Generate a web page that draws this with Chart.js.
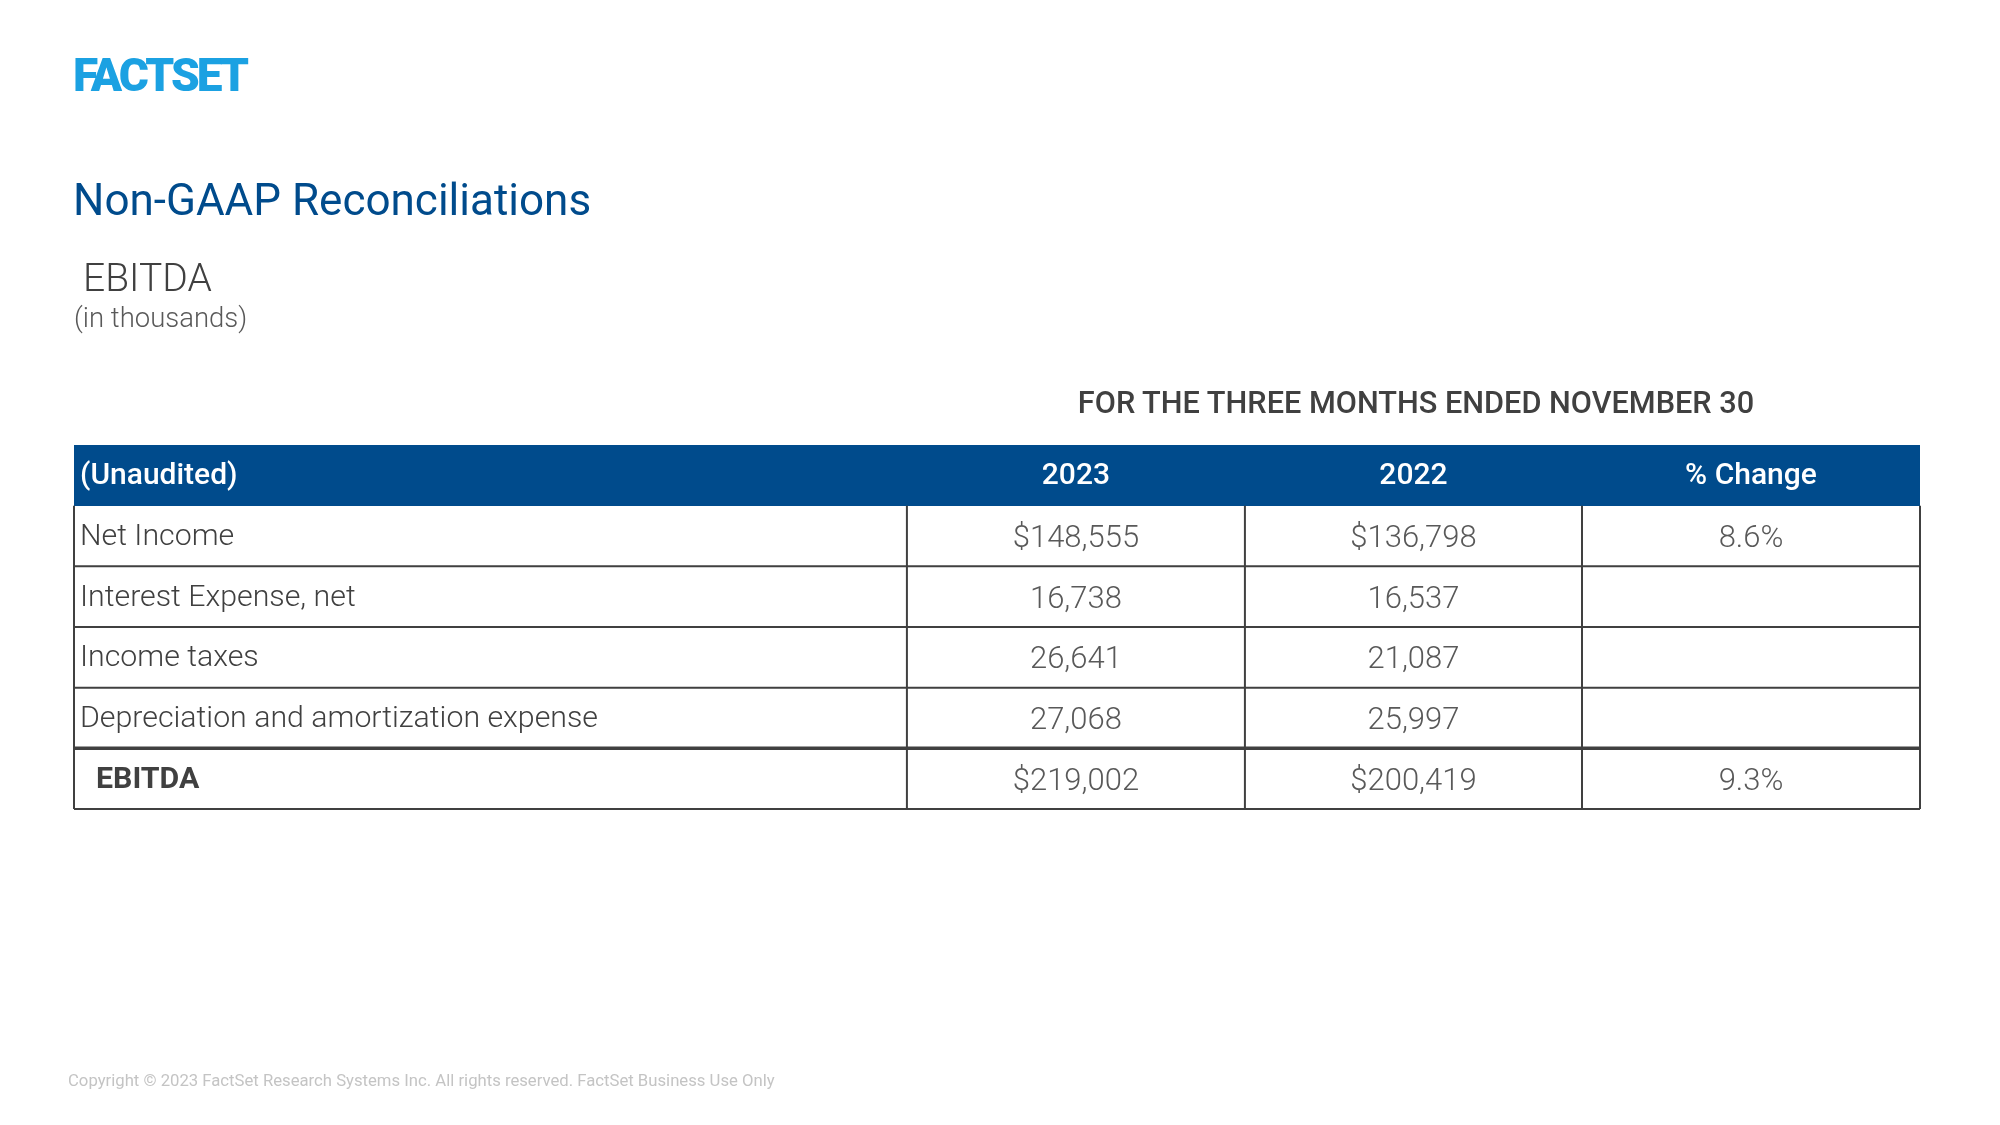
<!DOCTYPE html>
<html>
<head>
<meta charset="utf-8">
<script src="https://cdn.jsdelivr.net/npm/chart.js@4.4.1/dist/chart.umd.min.js"></script>
<style>
  html, body { margin: 0; padding: 0; background: #ffffff; }
  #wrap { position: relative; width: 2000px; height: 1125px; overflow: hidden; background: #fff; }
  #c { position: absolute; left: 0; top: 0; }
  .t { position: absolute; line-height: 1; white-space: nowrap; font-family: Roboto, "Noto Sans", sans-serif; }
  #logo { left: 73px; top: 52px; font-size: 46px; font-weight: 900; color: #1BA1E2; letter-spacing: -3px; }
  #title { left: 73px; top: 178px; font-size: 44px; font-weight: 400; color: #004B8C; }
  #sub { left: 83px; top: 259px; font-size: 39px; font-weight: 300; color: #404040; }
  #unit { left: 74px; top: 304px; font-size: 27.5px; font-weight: 300; color: #595959; }
  #period { left: 1416px; top: 388px; font-size: 30.7px; font-weight: 500; color: #404040; transform: translateX(-50%); }
  #copy { left: 68px; top: 1073px; font-size: 16.7px; font-weight: 400; color: #c4c4c4; }
</style>
</head>
<body>
<div id="wrap">
  <canvas id="c" width="2000" height="1125"></canvas>
  <div class="t" id="logo">FACTSET</div>
  <div class="t" id="title">Non-GAAP Reconciliations</div>
  <div class="t" id="sub">EBITDA</div>
  <div class="t" id="unit">(in thousands)</div>
  <div class="t" id="period">FOR THE THREE MONTHS ENDED NOVEMBER 30</div>
  <div class="t" id="copy">Copyright © 2023 FactSet Research Systems Inc. All rights reserved. FactSet Business Use Only</div>
</div>
<script>
// ---- data ----
const headerLabel = '(Unaudited)';
const rowLabels = ['Net Income', 'Interest Expense, net', 'Income taxes', 'Depreciation and amortization expense', 'EBITDA'];
const columnHeaders = ['2023', '2022', '% Change'];
const values2023 = [148555, 16738, 26641, 27068, 219002];
const values2022 = [136798, 16537, 21087, 25997, 200419];
const pctChange = [8.6, null, null, null, 9.3];
const dollarRows = [true, false, false, false, true];
const boldRows = [false, false, false, false, true];

// ---- layout (table column edges as % of table width) ----
const colEdges = [0, 45.12, 63.43, 81.69, 100];

const categories = [headerLabel].concat(rowLabels);
const fmtNum = (v, dollar) => (dollar ? '$' : '') + v.toLocaleString('en-US');
const fmtPct = v => v == null ? '' : v.toFixed(1) + '%';
const cellText = [
  [headerLabel].concat(columnHeaders)
].concat(rowLabels.map((r, i) => [r, fmtNum(values2023[i], dollarRows[i]), fmtNum(values2022[i], dollarRows[i]), fmtPct(pctChange[i])]));

const headerBand = categories.map((c, i) => i === 0 ? [0, 100] : null);

const tablePlugin = {
  id: 'tablePlugin',
  afterDatasetsDraw(chart) {
    const ctx = chart.ctx;
    const x = chart.scales.x, y = chart.scales.y;
    const n = categories.length;
    const half = (y.getPixelForValue(1) - y.getPixelForValue(0)) / 2;
    const edge = i => y.getPixelForValue(i) - half;
    const xl = x.getPixelForValue(0), xr = x.getPixelForValue(100);
    ctx.save();
    ctx.strokeStyle = '#404040';
    // horizontal lines
    for (let i = 2; i <= n; i++) {
      ctx.lineWidth = (i === n - 1) ? 3.5 : 2;
      ctx.beginPath();
      ctx.moveTo(xl, edge(i));
      ctx.lineTo(xr, edge(i));
      ctx.stroke();
    }
    // vertical lines
    ctx.lineWidth = 2;
    colEdges.forEach(e => {
      const px = x.getPixelForValue(e);
      ctx.beginPath();
      ctx.moveTo(px, edge(1));
      ctx.lineTo(px, edge(n));
      ctx.stroke();
    });
    // text
    for (let r = 0; r < n; r++) {
      const cy = y.getPixelForValue(r);
      for (let c = 0; c < 4; c++) {
        const txt = cellText[r][c];
        if (!txt) continue;
        if (r === 0) {
          ctx.fillStyle = '#ffffff';
          ctx.font = '500 30px Roboto';
        } else if (c === 0) {
          ctx.fillStyle = '#404040';
          ctx.font = boldRows[r - 1] ? '700 30.3px Roboto' : '300 30.3px Roboto';
        } else {
          ctx.fillStyle = '#595959';
          ctx.font = '300 31px Roboto';
        }
        ctx.textBaseline = 'alphabetic';
        const by = cy + (r === 0 ? 9 : (c === 0 ? 9 : 11));
        if (c === 0) {
          ctx.textAlign = 'left';
          const indent = (r > 0 && boldRows[r - 1]) ? 22 : 6;
          ctx.fillText(txt, x.getPixelForValue(colEdges[0]) + indent, by);
        } else {
          ctx.textAlign = 'center';
          const cx = (x.getPixelForValue(colEdges[c]) + x.getPixelForValue(colEdges[c + 1])) / 2;
          ctx.fillText(txt, cx, by);
        }
      }
    }
    ctx.restore();
  }
};

new Chart(document.getElementById('c'), {
  type: 'bar',
  data: {
    labels: categories,
    datasets: [{
      data: headerBand,
      backgroundColor: '#004B8C',
      borderWidth: 0,
      categoryPercentage: 1,
      barPercentage: 1
    }]
  },
  options: {
    indexAxis: 'y',
    responsive: false,
    animation: false,
    devicePixelRatio: 1,
    layout: { padding: { left: 74, right: 80, top: 445, bottom: 316 } },
    plugins: { legend: { display: false }, tooltip: { enabled: false }, title: { display: false } },
    scales: {
      x: { type: 'linear', min: 0, max: 100, display: false },
      y: { type: 'category', display: false, offset: true }
    }
  },
  plugins: [tablePlugin]
});
</script>
</body>
</html>
